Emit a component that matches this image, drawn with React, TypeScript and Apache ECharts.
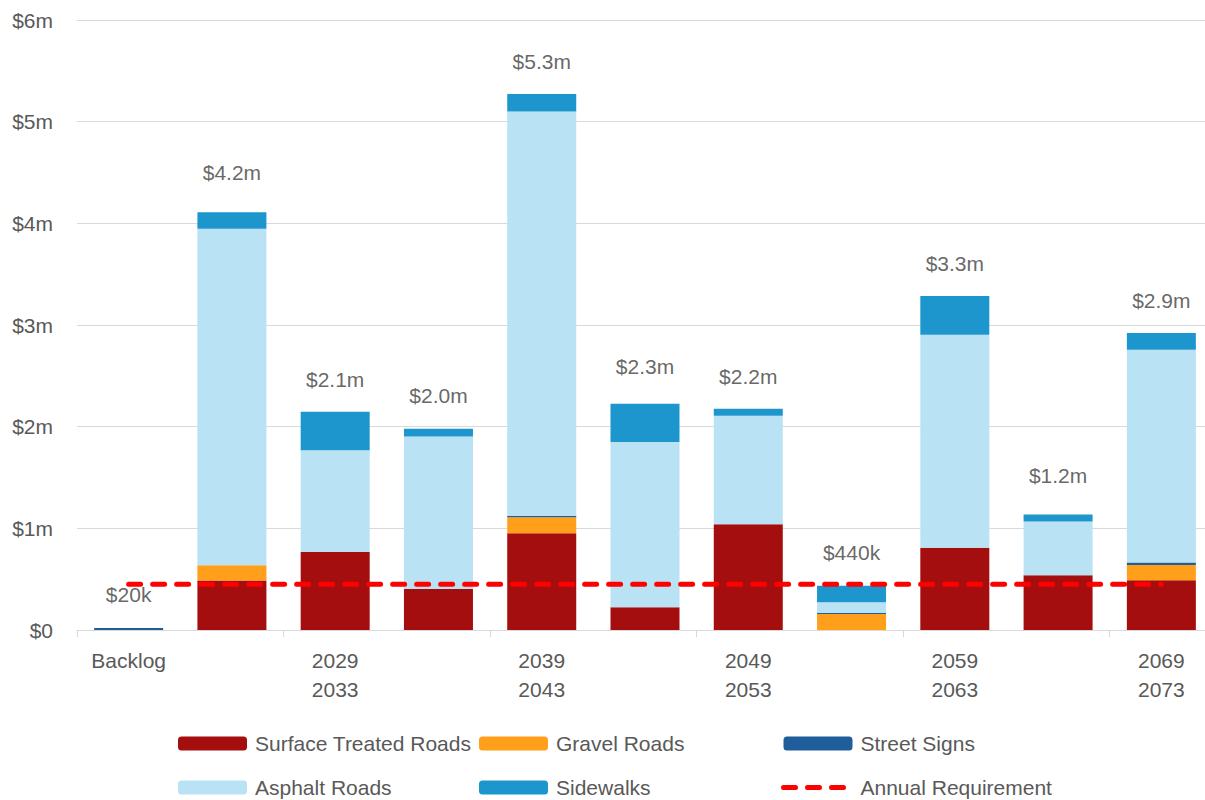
import React, { useEffect, useRef } from "react";
import * as echarts from "echarts";

const categories = [
  "Backlog",
  "2024\n2028",
  "2029\n2033",
  "2034\n2038",
  "2039\n2043",
  "2044\n2048",
  "2049\n2053",
  "2054\n2058",
  "2059\n2063",
  "2064\n2068",
  "2069\n2073",
];

const surfaceTreated = [0, 0.486, 0.768, 0.404, 0.951, 0.223, 1.039, 0, 0.81, 0.538, 0.489];
const gravel = [0, 0.15, 0, 0, 0.157, 0, 0, 0.158, 0, 0, 0.151];
const streetSigns = [0.02, 0, 0, 0, 0.017, 0, 0, 0.01, 0, 0, 0.023];
const asphalt = [0, 3.31, 1.0, 1.5, 3.975, 1.626, 1.069, 0.104, 2.094, 0.528, 2.094];
const sidewalks = [0, 0.164, 0.378, 0.075, 0.171, 0.377, 0.069, 0.164, 0.381, 0.069, 0.164];
const annualRequirement = [0.45, 0.45, 0.45, 0.45, 0.45, 0.45, 0.45, 0.45, 0.45, 0.45, 0.45];
const totals = [0.02, 4.18, 2.14, 1.98, 5.27, 2.27, 2.17, 0.44, 3.28, 1.2, 2.92];
const yTicks = [0, 1, 2, 3, 4, 5, 6];

const FONT = "'Liberation Sans', Arial, sans-serif";
const AXIS_COLOR = "#595959";
const GRID_COLOR = "#d9d9d9";
const DASH = [12, 12];

const fmtTotal = (v: number) =>
  v >= 1 ? "$" + v.toFixed(1) + "m" : "$" + Math.round(v * 1000) + "k";

export default function App() {
  const ref = useRef<HTMLDivElement>(null);
  useEffect(() => {
    if (!ref.current) return;
    const chart = echarts.init(ref.current, null, { renderer: "svg" });
    const barCommon = {
      type: "bar" as const,
      stack: "total",
      barWidth: 69,
    };
    const legendText = { fontSize: 21, color: AXIS_COLOR, fontFamily: FONT, padding: [0, 0, 0, 3] };
    const legendBase = {
      orient: "vertical" as const,
      top: 733,
      itemWidth: 69,
      itemHeight: 14,
      itemGap: 23,
      padding: 0,
      textStyle: legendText,
      selectedMode: false,
    };
    chart.setOption({
      animation: false,
      textStyle: { fontFamily: FONT },
      grid: {
        left: 77,
        top: 20,
        width: 1136,
        height: 610,
        containLabel: false,
        outerBoundsMode: "none",
      },
      xAxis: {
        type: "category",
        data: categories,
        axisLine: { lineStyle: { color: GRID_COLOR, width: 1 } },
        axisTick: { show: true, interval: 1, length: 7, lineStyle: { color: GRID_COLOR } },
        axisLabel: {
          interval: 1,
          fontSize: 21,
          color: AXIS_COLOR,
          lineHeight: 29,
          margin: 16,
          fontFamily: FONT,
        },
      },
      yAxis: {
        type: "value",
        min: yTicks[0],
        max: yTicks[yTicks.length - 1],
        interval: 1,
        axisLine: { show: false },
        axisTick: { show: false },
        splitLine: { lineStyle: { color: GRID_COLOR, width: 1 } },
        axisLabel: {
          fontSize: 21,
          color: AXIS_COLOR,
          margin: 24,
          fontFamily: FONT,
          formatter: (v: number) => (v === 0 ? "$0" : "$" + v + "m"),
        },
      },
      legend: [
        { ...legendBase, left: 178, data: ["Surface Treated Roads", "Asphalt Roads"] },
        { ...legendBase, left: 479, data: ["Gravel Roads", "Sidewalks"] },
        {
          ...legendBase,
          left: 781,
          data: [
            "Street Signs",
            {
              name: "Annual Requirement",
              itemStyle: { color: "rgba(0,0,0,0)", opacity: 0, borderWidth: 0 },
              lineStyle: { color: "#FF0000", width: 5, type: DASH, cap: "round" },
            },
          ],
        },
      ],
      series: [
        { ...barCommon, name: "Surface Treated Roads", data: surfaceTreated, itemStyle: { color: "#A50E0E" } },
        { ...barCommon, name: "Gravel Roads", data: gravel, itemStyle: { color: "#FF9F1A" } },
        { ...barCommon, name: "Street Signs", data: streetSigns, itemStyle: { color: "#205E9B" } },
        { ...barCommon, name: "Asphalt Roads", data: asphalt, itemStyle: { color: "#B9E2F4" } },
        { ...barCommon, name: "Sidewalks", data: sidewalks, itemStyle: { color: "#1C96CD" } },
        {
          type: "line",
          name: "Annual Requirement",
          data: annualRequirement,
          symbol: "none",
          z: 5,
          lineStyle: { color: "#FF0000", width: 5, type: DASH, cap: "round" },
          itemStyle: { color: "#FF0000" },
        },
        {
          type: "scatter",
          name: "Totals",
          data: totals,
          symbolSize: 1,
          itemStyle: { color: "rgba(0,0,0,0)" },
          z: 6,
          label: {
            show: true,
            position: "top",
            distance: 22,
            fontSize: 21,
            color: "#404040",
            fontFamily: FONT,
            formatter: (p: any) => fmtTotal(p.value as number),
          },
        },
      ],
    });
    return () => chart.dispose();
  }, []);
  return (
    <div
      ref={ref}
      style={{ position: "fixed", left: 0, top: 0, width: 1205, height: 800, background: "#fff" }}
    />
  );
}
